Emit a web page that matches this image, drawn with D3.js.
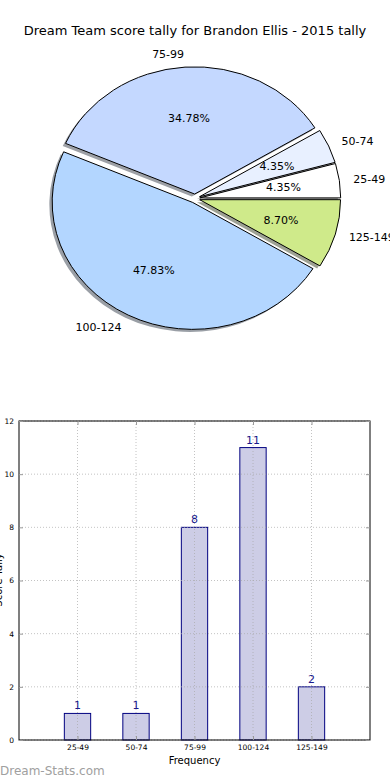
<!DOCTYPE html>
<html>
<head>
<meta charset="utf-8">
<script src="https://cdn.jsdelivr.net/npm/d3@7"></script>
<style>
  body { margin: 0; background: #fff; }
  svg { display: block; font-family: "DejaVu Sans", sans-serif; }
</style>
</head>
<body>
<svg width="390" height="780"></svg>
<script>
var categories = ["25-49", "50-74", "75-99", "100-124", "125-149"];
var counts = [1, 1, 8, 11, 2];
var pieColors = ["#ffffff", "#e8f0ff", "#c4d8ff", "#b3d6ff", "#cfea8a"];
var yTicks = [0, 2, 4, 6, 8, 10, 12];

var svg = d3.select("svg");

// title
svg.append("text")
    .attr("x", 195).attr("y", 35)
    .attr("text-anchor", "middle")
    .style("font-size", "13px")
    .text("Dream Team score tally for Brandon Ellis - 2015 tally");

// ---- pie (matplotlib style, elliptical, exploded, shadow) ----
var cx = 195, cy = 198.5, rx = 140.8, ry = 127.3, explode = 0.035;
var total = d3.sum(counts);

var pie = d3.pie().sort(null)
    .startAngle(Math.PI / 2)
    .endAngle(Math.PI / 2 - 2 * Math.PI);
var arcs = pie(counts);
var arc = d3.arc().innerRadius(0).outerRadius(1);

var pg = svg.append("g").attr("transform", "translate(" + cx + "," + cy + ") scale(" + rx + "," + ry + ")");

function mid(d) { return (d.startAngle + d.endAngle) / 2; }

// shadows first
pg.selectAll(".shadow")
    .data(arcs)
    .enter().append("path")
    .attr("class", "shadow")
    .attr("transform", function(d) {
        var m = mid(d);
        return "translate(" + (Math.sin(m) * explode - 0.02) + "," + (-Math.cos(m) * explode + 0.02) + ")";
    })
    .attr("d", arc)
    .attr("fill", function(d, i) {
        var c = d3.rgb(pieColors[i]);
        return d3.rgb(c.r * 0.3, c.g * 0.3, c.b * 0.3);
    })
    .attr("fill-opacity", 0.5);

pg.selectAll(".wedge")
    .data(arcs)
    .enter().append("path")
    .attr("class", "wedge")
    .attr("transform", function(d) {
        var m = mid(d);
        return "translate(" + (Math.sin(m) * explode) + "," + (-Math.cos(m) * explode) + ")";
    })
    .attr("d", arc)
    .attr("fill", function(d, i) { return pieColors[i]; })
    .attr("stroke", "#000")
    .attr("stroke-width", 1)
    .attr("vector-effect", "non-scaling-stroke");

// labels outside (1.1 r) and percents (0.6 r)
arcs.forEach(function(d, i) {
    var m = mid(d), s = Math.sin(m), c = -Math.cos(m);
    var lx = cx + (1.1 + explode) * rx * s, ly = cy + (1.1 + explode) * ry * c;
    svg.append("text")
        .attr("x", lx).attr("y", ly)
        .attr("dy", "0.35em")
        .attr("text-anchor", s > 0 ? "start" : "end")
        .style("font-size", "11px")
        .text(categories[i]);
    var px = cx + (0.6 + explode) * rx * s, py = cy + (0.6 + explode) * ry * c;
    svg.append("text")
        .attr("x", px).attr("y", py)
        .attr("dy", "0.35em")
        .attr("text-anchor", "middle")
        .style("font-size", "11px")
        .text((counts[i] / total * 100).toFixed(2) + "%");
});

// ---- bar chart ----
var plotL = 19, plotR = 370, plotT = 421, plotB = 740;
var x = d3.scaleLinear().domain([-1, 5]).range([plotL, plotR]);
var y = d3.scaleLinear().domain([0, 12]).range([plotB, plotT]);
var barW = 0.45;

var bg = svg.append("g");

// bars
bg.selectAll(".bar")
    .data(counts)
    .enter().append("rect")
    .attr("x", function(d, i) { return x(i - barW / 2); })
    .attr("width", x(barW) - x(0))
    .attr("y", function(d) { return y(d); })
    .attr("height", function(d) { return y(0) - y(d); })
    .attr("fill", "#cdcde6")
    .attr("stroke", "#000080").attr("stroke-width", 1);

// grid (drawn over the bars, as in the original)
bg.selectAll(".hgrid")
    .data(yTicks)
    .enter().append("line")
    .attr("x1", plotL).attr("x2", plotR)
    .attr("y1", function(d) { return y(d); }).attr("y2", function(d) { return y(d); })
    .attr("stroke", "#aaa").attr("stroke-opacity", 0.7).attr("stroke-dasharray", "1,2");
bg.selectAll(".vgrid")
    .data(categories)
    .enter().append("line")
    .attr("x1", function(d, i) { return x(i); }).attr("x2", function(d, i) { return x(i); })
    .attr("y1", plotT).attr("y2", plotB)
    .attr("stroke", "#aaa").attr("stroke-opacity", 0.7).attr("stroke-dasharray", "1,2");

// value labels
bg.selectAll(".val")
    .data(counts)
    .enter().append("text")
    .attr("x", function(d, i) { return x(i); })
    .attr("y", function(d) { return y(d) - 4; })
    .attr("text-anchor", "middle")
    .attr("fill", "#1a1a8c")
    .style("font-size", "11px")
    .text(function(d) { return d; });

// frame
bg.append("rect")
    .attr("x", plotL).attr("y", plotT)
    .attr("width", plotR - plotL).attr("height", plotB - plotT)
    .attr("fill", "none").attr("stroke", "#000").attr("stroke-width", 1);

// axes (ticks inward, like matplotlib)
var yAxis = d3.axisLeft(y).tickValues(yTicks).tickSize(-4).tickPadding(5);
bg.append("g").attr("transform", "translate(" + plotL + ",0)").call(yAxis);
var xAxis = d3.axisBottom(x).tickValues(d3.range(categories.length))
    .tickFormat(function(d) { return categories[d]; }).tickSize(-4).tickPadding(5);
bg.append("g").attr("transform", "translate(0," + plotB + ")").call(xAxis);
bg.append("g").attr("transform", "translate(" + plotR + ",0)")
    .call(d3.axisRight(y).tickValues(yTicks).tickSize(-4).tickFormat(""));
bg.append("g").attr("transform", "translate(0," + plotT + ")")
    .call(d3.axisTop(x).tickValues(d3.range(categories.length)).tickSize(-4).tickFormat(""));
bg.selectAll(".domain").remove();
bg.selectAll(".tick line").attr("stroke", "#999");
bg.selectAll(".tick text").style("font-family", "DejaVu Sans, sans-serif").style("font-size", "7.5px").attr("fill", "#000");

// axis labels
bg.append("text")
    .attr("x", (plotL + plotR) / 2).attr("y", 764)
    .attr("text-anchor", "middle")
    .style("font-size", "10px")
    .text("Frequency");
bg.append("text")
    .attr("transform", "translate(2,580) rotate(-90)")
    .attr("text-anchor", "middle")
    .style("font-size", "10px")
    .text("Score Tally");

// watermark
svg.append("text")
    .attr("x", 0).attr("y", 775)
    .attr("fill", "#a0a0a0")
    .style("font-size", "12px")
    .text("Dream-Stats.com");
</script>
</body>
</html>
